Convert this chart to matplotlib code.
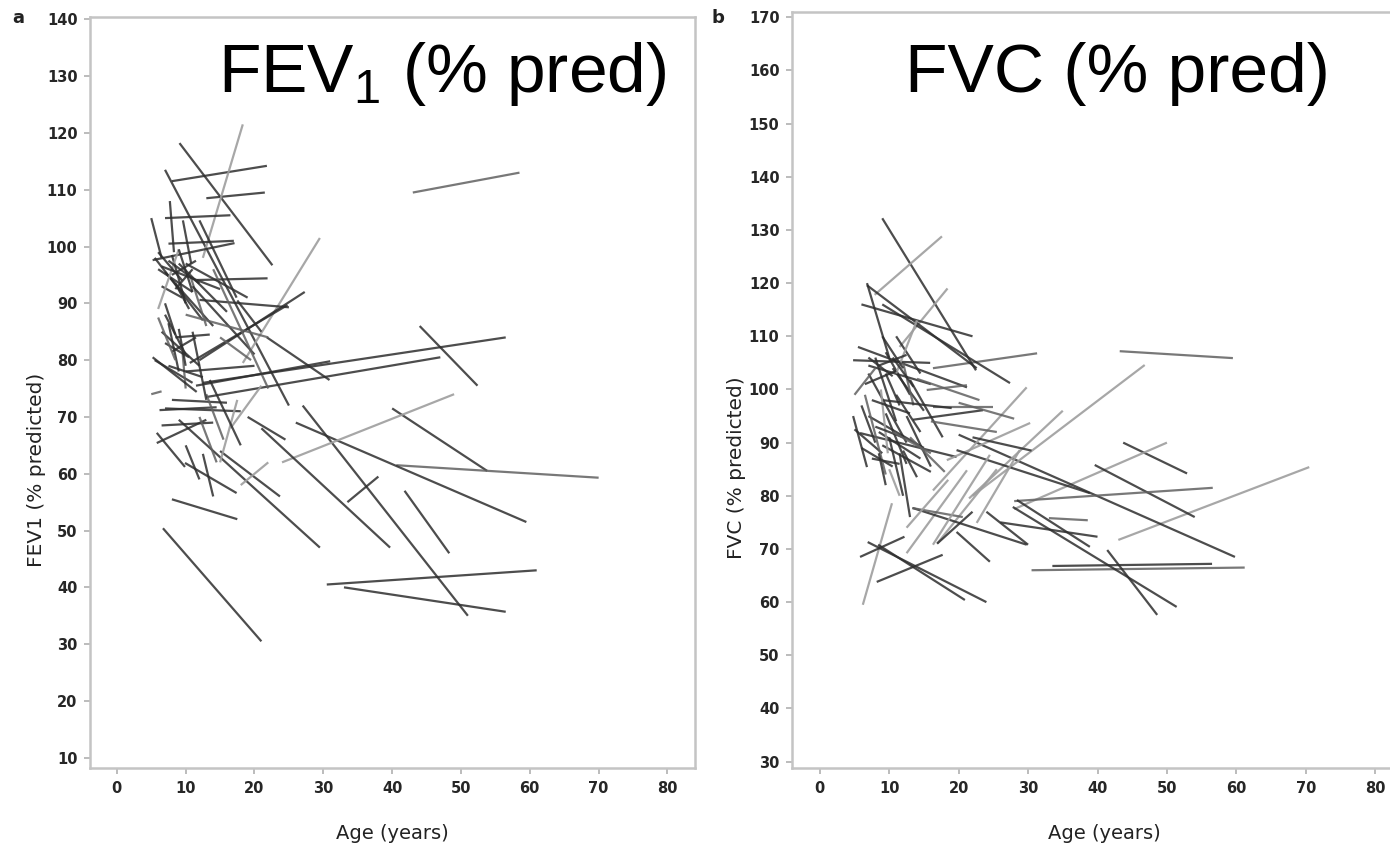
import matplotlib
matplotlib.use("Agg")
import matplotlib.pyplot as plt

# ---------------- Panel a: FEV1 (% predicted) ----------------
# each subject: (age start, value start, age end, value end, shade)
a_age0 = [9.1, 7.0, 8.0, 13.0, 12.5, 7.0, 7.5, 5.0, 7.7, 9.6, 12.0, 11.6, 18.3, 12.0, 10.6,
          6.7, 43.0, 44.0, 12.5, 13.0, 30.5, 33.0, 27.0, 40.0, 33.5, 41.8, 40.6, 26.0, 24.0, 21.0,
          9.0, 15.0, 8.0, 5.0, 5.5, 5.2, 12.0, 6.0, 7.0, 8.0, 9.0, 10.5, 6.5, 11.0, 14.0,
          7.0, 6.5, 7.5, 8.5, 5.5, 9.5, 10.0, 8.0, 7.0, 6.5, 11.5, 5.2, 5.8, 9.9, 5.8,
          6.2, 21.8, 16.5, 13.0, 15.0, 19.0, 10.0, 12.5, 18.0, 7.0, 15.0, 17.5, 10.0, 8.5, 6.0,
          6.0, 7.5, 8.0, 9.0, 6.5, 8.5, 10.0, 7.0, 8.0, 9.0, 7.5, 6.0, 11.0, 13.5, 12.0]
a_val0 = [118.2, 113.5, 111.5, 108.5, 98.0, 105.0, 100.5, 105.0, 108.0, 104.6, 104.6, 94.1, 79.5, 80.0, 79.5,
          50.4, 109.5, 86.0, 76.0, 73.5, 40.5, 40.0, 72.0, 71.5, 55.0, 57.0, 61.5, 69.0, 62.0, 68.0,
          69.5, 64.0, 55.5, 74.0, 98.0, 97.6, 90.6, 96.0, 95.5, 98.5, 97.0, 95.5, 93.0, 93.0, 96.0,
          88.0, 85.0, 86.5, 84.0, 80.0, 82.0, 78.0, 73.0, 71.5, 68.5, 75.5, 80.5, 67.2, 61.9, 65.4,
          71.2, 84.0, 68.0, 74.0, 62.0, 70.0, 65.0, 63.5, 58.0, 90.0, 84.0, 90.5, 88.0, 92.5, 89.0,
          99.0, 97.5, 95.0, 99.5, 96.5, 93.5, 97.0, 83.0, 81.5, 85.5, 79.0, 87.5, 85.0, 76.5, 70.0]
a_age1 = [22.6, 25.0, 21.8, 21.5, 18.3, 16.5, 17.0, 6.5, 8.3, 10.8, 17.4, 21.9, 29.5, 27.3, 24.8,
          21.0, 58.5, 52.4, 56.5, 47.0, 61.0, 56.5, 51.0, 53.8, 38.0, 48.3, 70.0, 59.5, 49.0, 39.7,
          29.5, 23.7, 17.5, 6.5, 12.5, 17.1, 25.0, 11.0, 14.0, 10.0, 16.0, 13.0, 9.5, 20.0, 22.0,
          10.0, 12.0, 9.0, 13.5, 11.0, 10.0, 20.0, 16.0, 18.0, 14.0, 31.0, 11.6, 9.9, 17.4, 13.0,
          14.5, 30.9, 21.0, 15.5, 17.5, 24.5, 12.0, 14.0, 22.0, 8.5, 19.5, 21.0, 22.0, 11.0, 9.0,
          9.5, 12.0, 11.5, 11.0, 15.0, 10.5, 19.0, 10.5, 11.5, 10.0, 12.5, 8.5, 13.0, 18.0, 14.5]
a_val1 = [96.7, 72.0, 114.2, 109.5, 121.5, 105.5, 101.0, 98.0, 99.0, 97.0, 91.0, 94.4, 101.5, 92.0, 89.7,
          30.5, 113.0, 75.5, 84.0, 80.5, 43.0, 35.7, 35.0, 60.5, 59.5, 46.0, 59.3, 51.5, 74.0, 47.0,
          47.0, 56.0, 52.0, 74.5, 87.0, 100.6, 89.3, 92.0, 86.0, 90.0, 88.5, 86.0, 91.0, 81.0, 75.0,
          81.0, 79.0, 78.0, 84.5, 76.0, 75.0, 79.0, 72.5, 71.0, 69.0, 79.8, 74.4, 61.2, 56.6, 69.5,
          71.7, 76.5, 75.5, 66.0, 73.0, 66.0, 59.0, 56.0, 62.0, 84.5, 80.0, 85.0, 84.0, 96.0, 99.5,
          94.0, 93.5, 97.5, 92.0, 92.5, 89.0, 91.0, 80.5, 84.0, 79.0, 77.0, 80.0, 73.0, 65.0, 62.0]
a_shade = ['d', 'd', 'd', 'd', 'l', 'd', 'd', 'd', 'd', 'd', 'd', 'd', 'l', 'd', 'd',
           'd', 'm', 'd', 'd', 'd', 'd', 'd', 'd', 'd', 'd', 'd', 'm', 'd', 'l', 'd',
           'd', 'd', 'd', 'm', 'd', 'd', 'd', 'd', 'd', 'd', 'd', 'm', 'd', 'd', 'm',
           'd', 'd', 'd', 'd', 'd', 'm', 'd', 'd', 'd', 'd', 'd', 'd', 'd', 'd', 'd',
           'd', 'd', 'l', 'm', 'l', 'd', 'd', 'd', 'l', 'd', 'm', 'd', 'm', 'd', 'l',
           'd', 'd', 'd', 'd', 'd', 'd', 'd', 'd', 'd', 'd', 'd', 'm', 'd', 'd', 'm']

# ---------------- Panel b: FVC (% predicted) ----------------
b_age0 = [43.2, 30.5, 33.5, 43.0, 43.7, 28.0, 39.6, 20.0, 28.0, 41.4, 27.8, 33.0, 26.0, 24.0, 22.0,
          21.5, 16.3, 16.3, 9.0, 7.9, 11.5, 6.8, 6.0, 9.0, 5.5, 16.3, 6.2, 6.9, 8.4, 5.8,
          8.2, 16.9, 12.5, 16.9, 19.7, 13.4, 13.3, 5.0, 4.8, 5.8, 6.0, 7.0, 8.0, 9.5, 10.5,
          12.0, 4.8, 7.0, 15.4, 13.0, 13.4, 18.3, 7.0, 8.5, 9.0, 7.5, 10.0, 11.5, 6.5, 12.5,
          9.0, 14.0, 11.0, 5.0, 10.0, 8.8, 19.7, 28.4, 22.6, 16.3, 12.5, 11.0, 6.8,
          7.0, 8.5, 9.5, 10.5, 6.5, 7.5, 11.0, 8.0, 9.5, 6.0, 10.5, 12.0, 8.5, 13.0, 9.0,
          20.0, 16.0, 22.0]
b_val0 = [107.2, 66.0, 66.8, 71.7, 90.0, 77.5, 85.8, 91.5, 79.0, 69.8, 77.9, 75.8, 75.0, 77.0, 80.0,
          79.5, 81.0, 104.0, 132.2, 117.8, 108.0, 119.6, 116.0, 116.0, 108.0, 96.7, 59.5, 71.3, 70.8, 68.5,
          63.8, 71.0, 69.2, 71.0, 73.2, 77.7, 77.7, 92.5, 95.0, 91.8, 97.0, 103.0, 106.0, 107.0, 104.0,
          105.0, 105.5, 104.5, 99.9, 101.8, 94.3, 86.7, 95.0, 92.0, 89.5, 87.0, 91.0, 88.0, 99.0, 95.0,
          98.0, 102.0, 110.0, 99.0, 85.0, 100.0, 88.6, 79.2, 74.9, 70.8, 74.0, 103.0, 120.0,
          106.0, 104.5, 103.0, 106.0, 101.0, 98.0, 99.0, 93.0, 95.5, 89.0, 92.0, 88.5, 88.0, 91.0, 110.0,
          97.5, 94.0, 91.0]
b_age1 = [59.5, 61.2, 56.5, 70.5, 52.9, 50.0, 54.0, 59.8, 56.6, 48.6, 51.4, 38.6, 40.0, 30.0, 46.8,
          35.0, 29.8, 31.3, 22.5, 17.6, 18.4, 22.6, 22.0, 27.4, 21.2, 25.0, 10.4, 24.0, 20.9, 12.2,
          17.7, 25.5, 21.2, 22.0, 24.5, 29.8, 20.6, 9.0, 6.8, 19.7, 8.0, 12.5, 11.0, 13.0, 15.0,
          13.5, 15.9, 16.0, 21.2, 17.7, 23.5, 30.3, 15.0, 14.5, 16.0, 11.5, 12.0, 13.0, 9.5, 16.0,
          19.0, 23.0, 14.5, 8.0, 11.5, 9.8, 38.9, 38.9, 28.8, 24.5, 18.5, 14.0, 10.0,
          10.5, 12.5, 11.5, 13.5, 11.0, 13.0, 14.5, 12.0, 12.5, 10.5, 16.0, 14.0, 9.5, 18.0, 12.0,
          28.0, 25.5, 30.5]
b_val1 = [105.9, 66.5, 67.2, 85.4, 84.2, 90.0, 76.0, 68.5, 81.5, 57.6, 59.1, 75.4, 72.3, 70.8, 104.6,
          96.0, 100.4, 106.8, 103.6, 128.8, 119.0, 104.0, 110.0, 101.2, 100.4, 96.7, 78.6, 60.0, 60.4, 72.3,
          68.9, 85.0, 84.8, 77.0, 67.6, 70.8, 76.0, 88.0, 85.4, 87.3, 90.0, 90.0, 94.0, 99.0, 96.0,
          97.0, 105.0, 101.0, 100.8, 91.0, 96.1, 93.7, 89.0, 87.0, 84.5, 86.0, 80.0, 76.0, 84.0, 85.5,
          96.5, 98.0, 103.0, 104.0, 80.0, 88.0, 80.5, 70.4, 88.6, 87.7, 83.0, 113.0, 106.0,
          102.5, 106.5, 97.0, 100.5, 103.5, 95.5, 92.0, 91.0, 86.0, 85.5, 88.0, 83.5, 82.0, 84.5, 104.0,
          94.5, 92.0, 88.5]
b_shade = ['m', 'm', 'd', 'l', 'd', 'l', 'd', 'd', 'm', 'd', 'd', 'm', 'd', 'd', 'l',
           'l', 'l', 'm', 'd', 'l', 'l', 'd', 'd', 'd', 'd', 'm', 'l', 'd', 'd', 'd',
           'd', 'l', 'l', 'd', 'd', 'd', 'm', 'd', 'd', 'd', 'd', 'd', 'd', 'd', 'd',
           'm', 'd', 'd', 'm', 'd', 'd', 'l', 'd', 'd', 'd', 'd', 'd', 'd', 'm', 'd',
           'd', 'm', 'd', 'm', 'l', 'l', 'd', 'd', 'l', 'l', 'l', 'l', 'd',
           'd', 'd', 'd', 'd', 'd', 'd', 'd', 'd', 'd', 'd', 'm', 'd', 'd', 'm', 'd',
           'm', 'm', 'd']

x_ticks = [0, 10, 20, 30, 40, 50, 60, 70, 80]
a_yticks = list(range(10, 141, 10))
b_yticks = list(range(30, 171, 10))

shade_colors = {'d': (0.18, 0.18, 0.18, 0.85),
                'm': (0.38, 0.38, 0.38, 0.85),
                'l': (0.62, 0.62, 0.62, 0.9)}

W, H = 1390, 846
fig = plt.figure(figsize=(W / 100, H / 100), dpi=100)
fig.patch.set_facecolor('white')

plt.rcParams['mathtext.fontset'] = 'custom'
plt.rcParams['mathtext.rm'] = 'Liberation Sans'


def style_axes(ax, xlim, ylim, yticks, ylabel, ylabel_x, xlabel_x, label_y):
    ax.set_xlim(*xlim)
    ax.set_ylim(*ylim)
    ax.set_xticks(x_ticks)
    ax.set_yticks(yticks)
    for s in ax.spines.values():
        s.set_color('#c4c4c4')
        s.set_linewidth(1.8)
    ax.tick_params(axis='both', direction='out', length=4, width=1.2, color='#b0b0b0',
                   labelsize=10.5, labelcolor='#262626', pad=5)
    for lab in ax.get_xticklabels() + ax.get_yticklabels():
        lab.set_fontfamily('DejaVu Sans')
        lab.set_fontweight('bold')
    ax.set_xlabel('Age (years)', fontsize=14, fontfamily='DejaVu Sans', color='#222222')
    ax.set_ylabel(ylabel, fontsize=14.5, fontfamily='DejaVu Sans', color='#222222')
    ax.xaxis.set_label_coords(xlabel_x, -0.074)
    ax.yaxis.set_label_coords(ylabel_x, label_y)


def draw_segments(ax, x0, y0, x1, y1, shades):
    for i in range(len(x0)):
        ax.plot([x0[i], x1[i]], [y0[i], y1[i]], color=shade_colors[shades[i]],
                lw=1.6, solid_capstyle='butt')


# panel a
ax_a = fig.add_axes([90 / W, (H - 768) / H, 605 / W, 751 / H])
draw_segments(ax_a, a_age0, a_val0, a_age1, a_val1, a_shade)
style_axes(ax_a, (-3.9, 84.0), (8.2, 140.4), a_yticks, 'FEV1 (% predicted)', -0.072, 0.50, 0.397)

# panel b
ax_b = fig.add_axes([792 / W, (H - 768) / H, 611 / W, 756 / H])
draw_segments(ax_b, b_age0, b_val0, b_age1, b_val1, b_shade)
style_axes(ax_b, (-4.0, 84.0), (28.8, 171.0), b_yticks, 'FVC (% predicted)', -0.075, 0.512, 0.397)

# big titles
fig.text(218 / W, (H - 92) / H, r'FEV$_\mathregular{1}$ (% pred)', fontsize=50,
         fontfamily='Liberation Sans', ha='left', va='baseline', color='black')
fig.text(905 / W, (H - 92) / H, 'FVC (% pred)', fontsize=50,
         fontfamily='Liberation Sans', ha='left', va='baseline', color='black')

# panel letters
fig.text(18 / W, 1 - 18 / H, 'a', fontsize=13, fontweight='bold', fontfamily='DejaVu Sans',
         ha='center', va='center', color='#222222')
fig.text(718 / W, 1 - 18 / H, 'b', fontsize=13, fontweight='bold', fontfamily='DejaVu Sans',
         ha='center', va='center', color='#222222')

fig.savefig('out.png', dpi=100, facecolor='white')
